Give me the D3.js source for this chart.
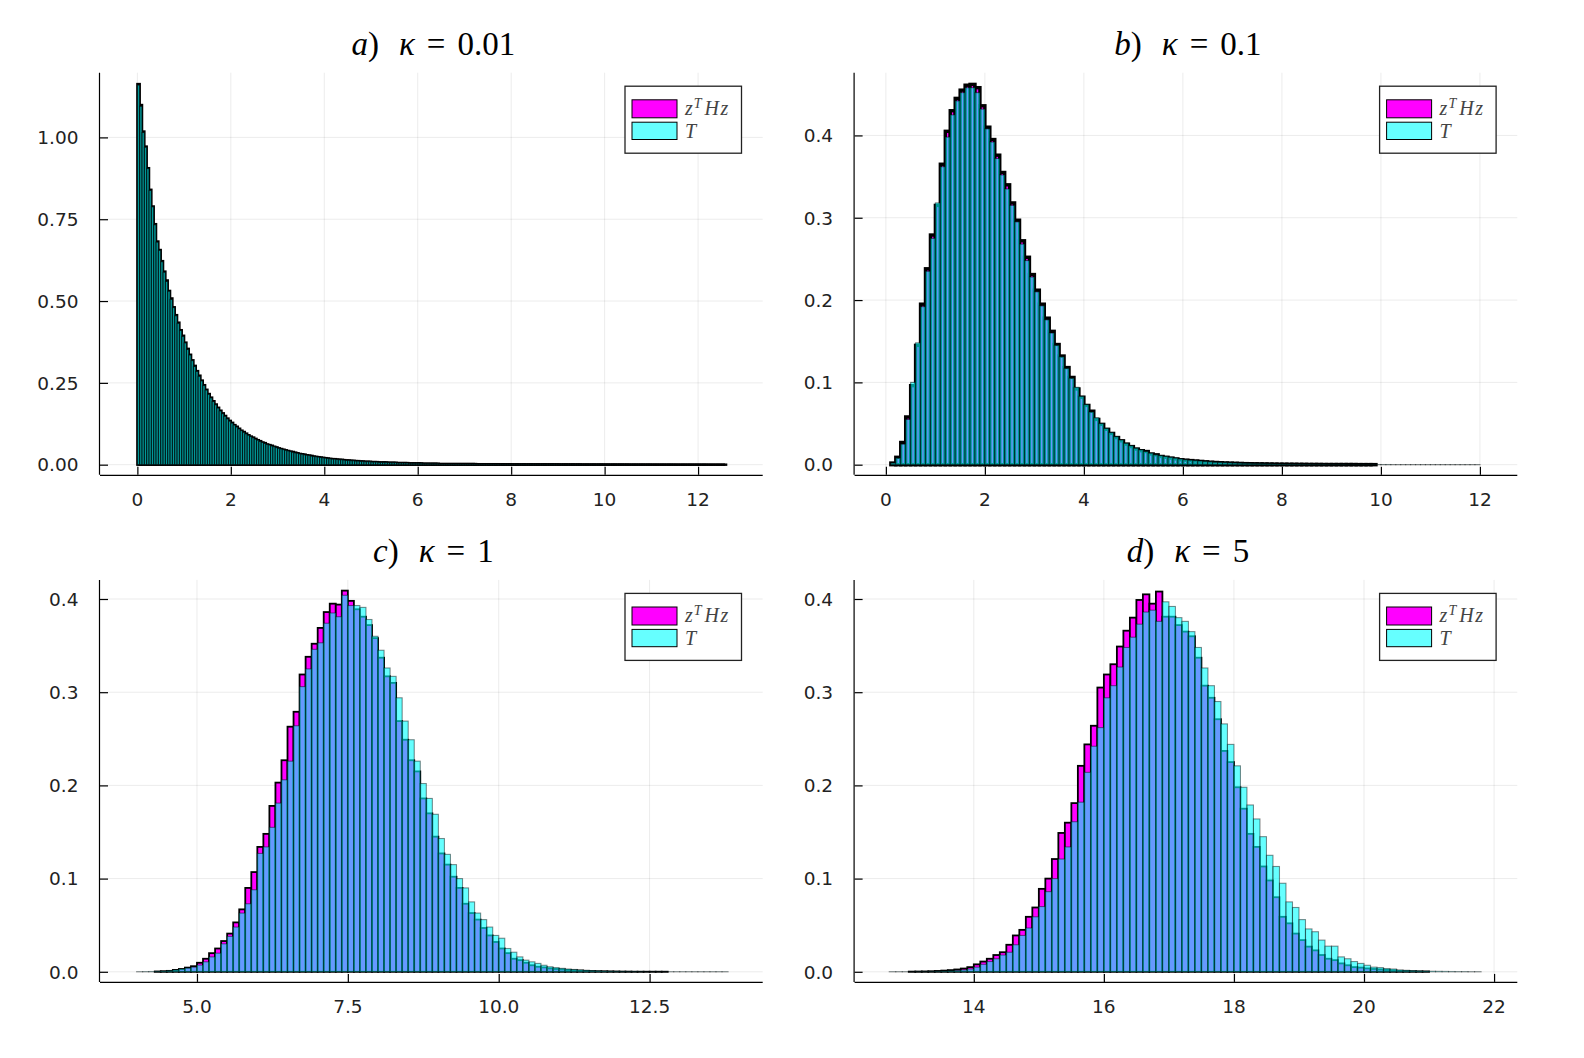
<!DOCTYPE html>
<html>
<head>
<meta charset="utf-8">
<script src="https://cdn.jsdelivr.net/npm/d3@7/dist/d3.min.js"></script>
<style>
  body { margin: 0; background: #fff; }
  svg { display: block; }
</style>
</head>
<body>
<script>
// ---- data: histogram heights (density) ----

// a) kappa = 0.01, bin width 0.05, both series start at 0
const aBinWidth = 0.05;
const aZhzStart = 0, aTStart = 0;
const aZhz = [
  1.163, 1.099, 1.018, 0.972, 0.906, 0.840, 0.789, 0.735, 0.682, 0.656,
  0.622, 0.590, 0.563, 0.531, 0.508, 0.481, 0.457, 0.434, 0.411, 0.394,
  0.373, 0.354, 0.336, 0.319, 0.302, 0.286, 0.272, 0.257, 0.243, 0.229,
  0.216, 0.205, 0.194, 0.184, 0.174, 0.165, 0.157, 0.149, 0.141, 0.134,
  0.128, 0.121, 0.116, 0.110, 0.104, 0.100, 0.095, 0.090, 0.086, 0.083,
  0.079, 0.075, 0.072, 0.068, 0.066, 0.062, 0.060, 0.058, 0.055, 0.053,
  0.050, 0.048, 0.046, 0.044, 0.042, 0.040, 0.039, 0.037, 0.035, 0.033,
  0.032, 0.031, 0.029, 0.028, 0.027, 0.025, 0.024, 0.023, 0.022, 0.021,
  0.020, 0.019, 0.018, 0.017, 0.017, 0.016, 0.015, 0.015, 0.014, 0.013,
  0.013, 0.012, 0.012, 0.011, 0.011, 0.010, 0.010, 0.009, 0.009, 0.009,
  0.008, 0.008, 0.008, 0.007, 0.007, 0.007, 0.007, 0.006, 0.006, 0.006,
  0.006, 0.005, 0.005, 0.005, 0.005, 0.005, 0.004, 0.004, 0.004, 0.004,
  0.004, 0.004, 0.003, 0.003, 0.003, 0.003, 0.003, 0.003, 0.003, 0.002,
  0.002, 0.002, 0.002, 0.002, 0.002, 0.002, 0.002, 0.002, 0.002, 0.002,
  0.002, 0.002, 0.002, 0.002, 0.002, 0.0015, 0.0015, 0.0015, 0.0015, 0.0015,
  0.0015, 0.0015, 0.0015, 0.0015, 0.0015, 0.0012, 0.0012, 0.0012, 0.0012, 0.0012,
  0.001, 0.001, 0.001, 0.001, 0.001, 0.001, 0.001, 0.001, 0.001, 0.001,
  0.001, 0.001, 0.001, 0.001, 0.001, 0.001, 0.001, 0.001, 0.001, 0.001,
  0.0008, 0.0008, 0.0008, 0.0008, 0.0008, 0.0008, 0.0008, 0.0008, 0.0008, 0.0008,
  0.0006, 0.0006, 0.0006, 0.0006, 0.0006, 0.0006, 0.0006, 0.0006, 0.0006, 0.0006,
  0.0005, 0.0005, 0.0005, 0.0005, 0.0005, 0.0005, 0.0005, 0.0005, 0.0005, 0.0005,
  0.0004, 0.0004, 0.0004, 0.0004, 0.0004, 0.0004, 0.0004, 0.0004, 0.0004, 0.0004,
  0.0003, 0.0003, 0.0003, 0.0003, 0.0003, 0.0003, 0.0003, 0.0003, 0.0003, 0.0003,
  0.0002, 0.0002, 0.0002, 0.0002, 0.0002, 0.0002, 0.0002, 0.0002, 0.0002, 0.0002,
  0.0002, 0.0002, 0.0002, 0.0002, 0.0001, 0.0001, 0.0001, 0.0001, 0.0001, 0.0001,
  0.0001, 0.0001
];
const aT = [
  1.160, 1.095, 1.015, 0.970, 0.905, 0.838, 0.788, 0.733, 0.680, 0.655,
  0.620, 0.588, 0.560, 0.530, 0.505, 0.480, 0.455, 0.432, 0.410, 0.392,
  0.372, 0.352, 0.335, 0.318, 0.300, 0.285, 0.270, 0.256, 0.242, 0.228,
  0.215, 0.204, 0.193, 0.183, 0.173, 0.164, 0.156, 0.148, 0.140, 0.133,
  0.127, 0.121, 0.115, 0.109, 0.104, 0.099, 0.094, 0.090, 0.086, 0.082,
  0.078, 0.075, 0.071, 0.068, 0.065, 0.062, 0.060, 0.057, 0.055, 0.052,
  0.050, 0.048, 0.046, 0.044, 0.042, 0.040, 0.038, 0.036, 0.035, 0.033,
  0.032, 0.030, 0.029, 0.028, 0.026, 0.025, 0.024, 0.023, 0.022, 0.021,
  0.020, 0.019, 0.018, 0.017, 0.017, 0.016, 0.015, 0.015, 0.014, 0.013,
  0.013, 0.012, 0.012, 0.011, 0.011, 0.010, 0.010, 0.009, 0.009, 0.009,
  0.008, 0.008, 0.008, 0.007, 0.007, 0.007, 0.007, 0.006, 0.006, 0.006,
  0.006, 0.005, 0.005, 0.005, 0.005, 0.005, 0.004, 0.004, 0.004, 0.004,
  0.004, 0.004, 0.003, 0.003, 0.003, 0.003, 0.003, 0.003, 0.003, 0.002,
  0.002, 0.002, 0.002, 0.002, 0.002, 0.002, 0.002, 0.002, 0.002, 0.002,
  0.002, 0.002, 0.002, 0.002, 0.002, 0.0015, 0.0015, 0.0015, 0.0015, 0.0015,
  0.0015, 0.0015, 0.0015, 0.0015, 0.0015, 0.0012, 0.0012, 0.0012, 0.0012, 0.0012,
  0.001, 0.001, 0.001, 0.001, 0.001, 0.001, 0.001, 0.001, 0.001, 0.001,
  0.001, 0.001, 0.001, 0.001, 0.001, 0.001, 0.001, 0.001, 0.001, 0.001,
  0.0008, 0.0008, 0.0008, 0.0008, 0.0008, 0.0008, 0.0008, 0.0008, 0.0008, 0.0008,
  0.0006, 0.0006, 0.0006, 0.0006, 0.0006, 0.0006, 0.0006, 0.0006, 0.0006, 0.0006,
  0.0005, 0.0005, 0.0005, 0.0005, 0.0005, 0.0005, 0.0005, 0.0005, 0.0005, 0.0005,
  0.0004, 0.0004, 0.0004, 0.0004, 0.0004, 0.0004, 0.0004, 0.0004, 0.0004, 0.0004,
  0.0003, 0.0003, 0.0003, 0.0003, 0.0003, 0.0003, 0.0003, 0.0003, 0.0003, 0.0003,
  0.0002, 0.0002, 0.0002, 0.0002, 0.0002, 0.0002, 0.0002, 0.0002, 0.0002, 0.0002,
  0.0002, 0.0002, 0.0002, 0.0002, 0.0001, 0.0001, 0.0001, 0.0001, 0.0001, 0.0001,
  0.0001, 0.0001
];
const aXTicks = [0, 2, 4, 6, 8, 10, 12];
const aYTicks = [0, 0.25, 0.5, 0.75, 1.0];

// b) kappa = 0.1, bin width 0.1
const bBinWidth = 0.1;
const bZhzStart = 0.1, bTStart = 0.1;
const bZhz = [
  0.002, 0.009, 0.027, 0.058, 0.096, 0.145, 0.195, 0.238, 0.279, 0.315,
  0.365, 0.405, 0.430, 0.445, 0.455, 0.461, 0.462, 0.458, 0.436, 0.410,
  0.395, 0.376, 0.355, 0.340, 0.318, 0.297, 0.272, 0.252, 0.231, 0.212,
  0.195, 0.178, 0.162, 0.146, 0.132, 0.118, 0.106, 0.092, 0.082, 0.072,
  0.065, 0.055, 0.049, 0.043, 0.038, 0.033, 0.029, 0.025, 0.022, 0.019,
  0.017, 0.016, 0.013, 0.012, 0.010, 0.009, 0.008, 0.007, 0.006, 0.0055,
  0.005, 0.0045, 0.004, 0.0035, 0.003, 0.0027, 0.0024, 0.0021, 0.0019, 0.0017,
  0.0015, 0.0013, 0.0012, 0.0011, 0.001, 0.0009, 0.0008, 0.0007, 0.0006, 0.0006,
  0.0005, 0.0005, 0.0004, 0.0004, 0.0003, 0.0003, 0.0003, 0.0002, 0.0002, 0.0002,
  0.0002, 0.0002, 0.0002, 0.0002, 0.0001, 0.0001, 0.0001, 0.0001
];
const bT = [
  0.002, 0.008, 0.025, 0.055, 0.100, 0.148, 0.192, 0.235, 0.275, 0.318,
  0.362, 0.398, 0.425, 0.442, 0.452, 0.458, 0.458, 0.452, 0.432, 0.408,
  0.392, 0.372, 0.352, 0.335, 0.315, 0.295, 0.268, 0.248, 0.228, 0.210,
  0.193, 0.176, 0.160, 0.145, 0.131, 0.117, 0.105, 0.094, 0.083, 0.073,
  0.064, 0.057, 0.050, 0.044, 0.039, 0.034, 0.030, 0.026, 0.023, 0.020,
  0.018, 0.016, 0.014, 0.012, 0.011, 0.010, 0.009, 0.008, 0.007, 0.006,
  0.0055, 0.005, 0.0045, 0.004, 0.0035, 0.003, 0.0028, 0.0025, 0.0022, 0.002,
  0.0018, 0.0016, 0.0015, 0.0013, 0.0012, 0.0011, 0.001, 0.0009, 0.0008, 0.0007,
  0.0007, 0.0006, 0.0006, 0.0005, 0.0005, 0.0004, 0.0004, 0.0004, 0.0003, 0.0003,
  0.0003, 0.0003, 0.0002, 0.0002, 0.0002, 0.0002, 0.0002, 0.0002, 0.0002, 0.0002,
  0.0002, 0.0001, 0.0001, 0.0001, 0.0001, 0.0001, 0.0001, 0.0001, 0.0001, 0.0001,
  0.0001, 0.0001, 0.0001, 0.0001, 0.0001, 0.0001, 0.0001, 0.0001, 0.0001
];
const bXTicks = [0, 2, 4, 6, 8, 10, 12];
const bYTicks = [0, 0.1, 0.2, 0.3, 0.4];

// c) kappa = 1, bin width 0.1
const cBinWidth = 0.1;
const cZhzStart = 4.3, cTStart = 4.0;
const cZhz = [
  0.0003, 0.0006, 0.001, 0.002, 0.003, 0.0045, 0.006,
  0.0097, 0.014, 0.020, 0.025, 0.033, 0.041, 0.053, 0.067, 0.090, 0.107,
  0.134, 0.148, 0.178, 0.203, 0.227, 0.263, 0.279, 0.319, 0.338, 0.352,
  0.369, 0.386, 0.395, 0.394, 0.409, 0.398, 0.389, 0.381, 0.372, 0.358,
  0.337, 0.317, 0.310, 0.269, 0.249, 0.227, 0.215, 0.186, 0.170, 0.145,
  0.127, 0.115, 0.102, 0.090, 0.073, 0.063, 0.056, 0.047, 0.039, 0.032,
  0.025, 0.020, 0.014, 0.0125, 0.0097, 0.007, 0.0054, 0.0047, 0.0036, 0.003,
  0.0025, 0.002, 0.0016, 0.0013, 0.001, 0.0008, 0.0006, 0.0005, 0.0004, 0.0003,
  0.0002, 0.0002, 0.0001, 0.0001, 0.0001, 0.0001, 0.0001, 0.0001
];
const cT = [
  0.0001, 0.0002, 0.0003, 0.0005, 0.0008, 0.0012, 0.002, 0.003, 0.004, 0.005,
  0.0072, 0.0107, 0.016, 0.020, 0.030, 0.038, 0.048, 0.063, 0.073, 0.088,
  0.127, 0.134, 0.155, 0.181, 0.206, 0.226, 0.264, 0.306, 0.325, 0.346,
  0.353, 0.374, 0.385, 0.381, 0.404, 0.393, 0.393, 0.391, 0.378, 0.360,
  0.345, 0.326, 0.317, 0.294, 0.269, 0.249, 0.226, 0.202, 0.186, 0.169,
  0.143, 0.126, 0.115, 0.100, 0.090, 0.075, 0.063, 0.056, 0.048, 0.039,
  0.036, 0.025, 0.021, 0.016, 0.0125, 0.0107, 0.009, 0.007, 0.0054, 0.0045,
  0.0037, 0.003, 0.0025, 0.002, 0.0016, 0.0013, 0.001, 0.0008, 0.0006, 0.0005,
  0.0004, 0.0003, 0.0003, 0.0002,
  0.0001, 0.0001, 0.0001, 0.0001, 0.0001, 0.0001, 0.0001, 0.0001, 0.0001, 0.0001,
  0.0001, 0.0001, 0.0001, 0.0001
];
const cXTicks = [5.0, 7.5, 10.0, 12.5];
const cYTicks = [0, 0.1, 0.2, 0.3, 0.4];

// d) kappa = 5, bin width 0.1
const dBinWidth = 0.1;
const dZhzStart = 13.0, dTStart = 12.7;
const dZhz = [
  0.0002, 0.0003, 0.0004, 0.0006, 0.0009, 0.0013, 0.0018, 0.0025, 0.0035, 0.005,
  0.008, 0.011, 0.014, 0.018, 0.021, 0.029, 0.039, 0.045, 0.059, 0.069,
  0.089, 0.100, 0.121, 0.149, 0.160, 0.181, 0.221, 0.244, 0.264, 0.305,
  0.319, 0.330, 0.349, 0.366, 0.380, 0.399, 0.405, 0.395, 0.408, 0.381,
  0.381, 0.372, 0.365, 0.360, 0.337, 0.307, 0.294, 0.271, 0.237, 0.225,
  0.198, 0.175, 0.148, 0.134, 0.113, 0.098, 0.080, 0.059, 0.052, 0.041,
  0.034, 0.027, 0.023, 0.018, 0.014, 0.0125, 0.009, 0.007, 0.005, 0.0045,
  0.0036, 0.003, 0.0025, 0.002, 0.0015, 0.001, 0.0008, 0.0006, 0.0004, 0.0003
];
const dT = [
  0.0001, 0.0001, 0.0001, 0.0001, 0.0002, 0.0002, 0.0003, 0.0005, 0.0007, 0.001,
  0.0015, 0.002, 0.003,
  0.005, 0.008, 0.011, 0.014, 0.018, 0.021, 0.029, 0.039, 0.047, 0.059,
  0.070, 0.086, 0.100, 0.121, 0.134, 0.161, 0.182, 0.214, 0.242, 0.262,
  0.294, 0.307, 0.327, 0.348, 0.359, 0.373, 0.386, 0.388, 0.376, 0.397,
  0.392, 0.380, 0.376, 0.365, 0.348, 0.326, 0.307, 0.290, 0.266, 0.244,
  0.221, 0.198, 0.179, 0.164, 0.145, 0.125, 0.113, 0.095, 0.075, 0.069,
  0.056, 0.046, 0.043, 0.034, 0.0275, 0.0275, 0.016, 0.014, 0.011, 0.009,
  0.007, 0.005, 0.0045, 0.0035, 0.003, 0.002, 0.0016, 0.0013, 0.001, 0.0008,
  0.0006, 0.0005, 0.0004, 0.0003, 0.0002, 0.0002, 0.0001, 0.0001
];
const dXTicks = [14, 16, 18, 20, 22];
const dYTicks = [0, 0.1, 0.2, 0.3, 0.4];

const seriesNames = ["zHz", "T"];

// ---- layout ----
const width = 1584, height = 1058;

// zhzStroke / tStrokeOpacity: outline weight, heavier where bins are dense
const panels = [
  { letter: "a", kappa: "0.01",
    frame: { left: 100, right: 762.7, top: 72.7, bottom: 474.8 },
    xDomain: [-0.800, 13.383], yDomain: [-0.0309, 1.1977],
    xTicks: aXTicks, yTicks: aYTicks, xFmt: d3.format("d"), yFmt: d3.format(".2f"),
    binWidth: aBinWidth, zhzStroke: 2.4, tStrokeOpacity: 0.7,
    zhz: { start: aZhzStart, values: aZhz }, t: { start: aTStart, values: aT } },
  { letter: "b", kappa: "0.1",
    frame: { left: 854.6, right: 1517.3, top: 72.7, bottom: 474.8 },
    xDomain: [-0.632, 12.755], yDomain: [-0.01227, 0.4762],
    xTicks: bXTicks, yTicks: bYTicks, xFmt: d3.format("d"), yFmt: d3.format(".1f"),
    binWidth: bBinWidth, zhzStroke: 3.4, tStrokeOpacity: 0.5,
    zhz: { start: bZhzStart, values: bZhz }, t: { start: bTStart, values: bT } },
  { letter: "c", kappa: "1",
    frame: { left: 100, right: 762.7, top: 579.9, bottom: 981.9 },
    xDomain: [3.393, 14.374], yDomain: [-0.01084, 0.4205],
    xTicks: cXTicks, yTicks: cYTicks, xFmt: d3.format(".1f"), yFmt: d3.format(".1f"),
    binWidth: cBinWidth, zhzStroke: 1.8, tStrokeOpacity: 0.45,
    zhz: { start: cZhzStart, values: cZhz }, t: { start: cTStart, values: cT } },
  { letter: "d", kappa: "5",
    frame: { left: 854.6, right: 1517.3, top: 579.9, bottom: 981.9 },
    xDomain: [12.167, 22.357], yDomain: [-0.01084, 0.4205],
    xTicks: dXTicks, yTicks: dYTicks, xFmt: d3.format("d"), yFmt: d3.format(".1f"),
    binWidth: dBinWidth, zhzStroke: 1.8, tStrokeOpacity: 0.45,
    zhz: { start: dZhzStart, values: dZhz }, t: { start: dTStart, values: dT } }
];

const svg = d3.select("body")
  .append("svg")
  .attr("width", width)
  .attr("height", height);

svg.append("rect").attr("width", width).attr("height", height).attr("fill", "#fff");

function drawBars(g, series, x, y, binWidth, fill, fillOpacity, strokeWidth, strokeOpacity) {
  g.append("g")
    .selectAll("rect")
    .data(series.values)
    .join("rect")
    .attr("x", (d, i) => x(series.start + i * binWidth))
    .attr("width", (d, i) => x(series.start + (i + 1) * binWidth) - x(series.start + i * binWidth))
    .attr("y", d => y(d))
    .attr("height", d => y(0) - y(d))
    .attr("fill", fill)
    .attr("fill-opacity", fillOpacity)
    .attr("stroke", "#000")
    .attr("stroke-opacity", strokeOpacity)
    .attr("stroke-width", strokeWidth);
}

panels.forEach(p => {
  const f = p.frame;
  const x = d3.scaleLinear().domain(p.xDomain).range([f.left, f.right]);
  const y = d3.scaleLinear().domain(p.yDomain).range([f.bottom, f.top]);
  const g = svg.append("g");

  // grid
  g.append("g").selectAll("line").data(p.xTicks).join("line")
    .attr("x1", d => x(d)).attr("x2", d => x(d))
    .attr("y1", f.top).attr("y2", f.bottom)
    .attr("stroke", "#000").attr("stroke-opacity", 0.08).attr("stroke-width", 1);
  g.append("g").selectAll("line").data(p.yTicks).join("line")
    .attr("x1", f.left).attr("x2", f.right)
    .attr("y1", d => y(d)).attr("y2", d => y(d))
    .attr("stroke", "#000").attr("stroke-opacity", 0.08).attr("stroke-width", 1);

  // histograms: zHz first (opaque magenta), T on top (translucent cyan)
  drawBars(g, p.zhz, x, y, p.binWidth, "#ff00ff", 1, p.zhzStroke, 1);
  drawBars(g, p.t, x, y, p.binWidth, "#00ffff", 0.6, 1.1, p.tStrokeOpacity);

  // axes (spines with inward ticks)
  const xAxis = d3.axisBottom(x).tickValues(p.xTicks).tickSize(-8).tickPadding(0).tickFormat("");
  g.append("g").attr("transform", `translate(0,${f.bottom})`).call(xAxis)
    .call(s => s.select(".domain").attr("d", `M${f.left},0.5H${f.right}`).attr("stroke-width", 1.2))
    .call(s => s.selectAll(".tick line").attr("stroke-width", 1.2));
  const yAxis = d3.axisLeft(y).tickValues(p.yTicks).tickSize(-8).tickPadding(0).tickFormat("");
  g.append("g").attr("transform", `translate(${f.left},0)`).call(yAxis)
    .call(s => s.select(".domain").attr("d", `M-0.5,${f.top}V${f.bottom}`).attr("stroke-width", 1.2))
    .call(s => s.selectAll(".tick line").attr("stroke-width", 1.2));

  // tick labels
  g.append("g").selectAll("text").data(p.xTicks).join("text")
    .attr("x", d => x(d)).attr("y", f.bottom + 31)
    .attr("text-anchor", "middle")
    .attr("font-family", "DejaVu Sans").attr("font-size", 18.5).attr("fill", "#222")
    .text(d => p.xFmt(d));
  g.append("g").selectAll("text").data(p.yTicks).join("text")
    .attr("x", f.left - 21.5).attr("y", d => y(d) + 6.8)
    .attr("text-anchor", "end")
    .attr("font-family", "DejaVu Sans").attr("font-size", 18.5).attr("fill", "#222")
    .text(d => p.yFmt(d));

  // title
  const title = g.append("text")
    .attr("x", (f.left + f.right) / 2 + 2).attr("y", f.top - 17.7)
    .attr("text-anchor", "middle")
    .attr("font-family", "Liberation Serif").attr("font-size", 33).attr("fill", "#000");
  title.append("tspan").attr("font-style", "italic").text(p.letter);
  title.append("tspan").text(")");
  title.append("tspan").attr("dx", 20).attr("font-style", "italic").text("κ");
  title.append("tspan").attr("dx", 12).text("=");
  title.append("tspan").attr("dx", 12).text(p.kappa);

  // legend
  const lw = 116.5, lh = 67;
  const lx = f.right - 21.2 - lw, ly = f.top + 13.5;
  const leg = g.append("g").attr("transform", `translate(${lx},${ly})`);
  leg.append("rect").attr("width", lw).attr("height", lh)
    .attr("fill", "#fff").attr("stroke", "#222").attr("stroke-width", 1.3);
  leg.append("rect").attr("x", 7).attr("y", 13.6).attr("width", 45).attr("height", 18)
    .attr("fill", "#ff00ff").attr("stroke", "#000").attr("stroke-width", 1);
  leg.append("rect").attr("x", 7).attr("y", 36).attr("width", 45).attr("height", 17.3)
    .attr("fill", "#00ffff").attr("fill-opacity", 0.6).attr("stroke", "#000").attr("stroke-width", 1);
  const t1 = leg.append("text").attr("x", 60).attr("y", 29)
    .attr("font-family", "Liberation Serif").attr("font-style", "italic")
    .attr("font-size", 20).attr("fill", "#444");
  t1.append("tspan").text("z");
  t1.append("tspan").attr("dy", -7).attr("dx", 1).attr("font-size", 14).text("T");
  t1.append("tspan").attr("dy", 7).attr("dx", 3).attr("letter-spacing", 1.5).text("Hz");
  leg.append("text").attr("x", 60).attr("y", 51.5)
    .attr("font-family", "Liberation Serif").attr("font-style", "italic")
    .attr("font-size", 20).attr("fill", "#444")
    .text(seriesNames[1]);
});
</script>
</body>
</html>
